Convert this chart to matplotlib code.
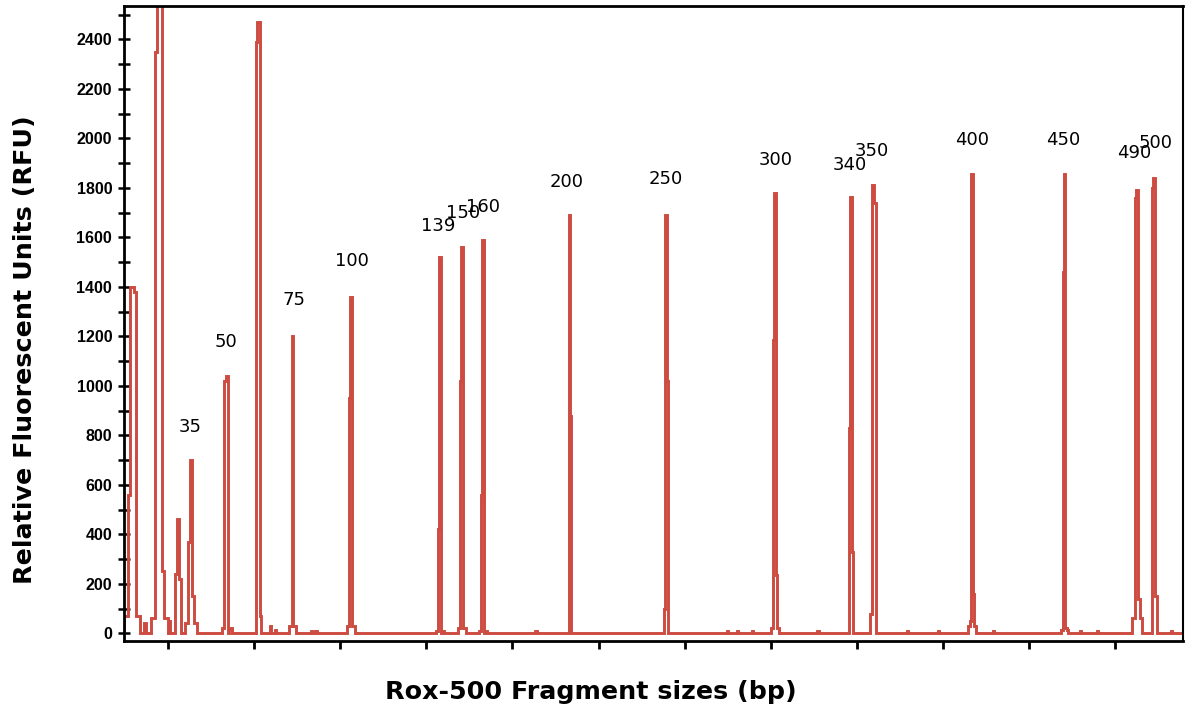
import matplotlib
matplotlib.use("Agg")
import matplotlib.pyplot as plt
from matplotlib.ticker import MultipleLocator, NullFormatter

# ---------------- data (scan units, RFU) ----------------
# peak table: position, apex height, left shoulder, right shoulder, pedestal,
# outer half-width, apex half-width
peak_pos = [58.2, 73.3, 90.1, 102.3, 111.6, 126.7, 168.5, 205.1, 218.5, 225.4,
            244.6, 267.2, 271.9, 312.5, 415.9, 441.5, 465.8, 527.4, 566.3, 678.4,
            749.4, 761.0, 778.3, 805.0, 854.9, 893.2, 918.8, 959.4, 994.3, 1033.8,
            1058.2, 1141.2, 1159.2, 1179.0, 1225.4, 1245.2, 1264.9]
peak_height = [1400, 40, 2600, 50, 460, 700, 1040, 2470, 30, 15,
               1200, 10, 10, 1360, 1519, 1560, 1590, 10, 1690, 1690,
               10, 10, 10, 1780, 10, 1765, 1810, 10, 10, 1855,
               10, 1855, 10, 10, 1790, 1840, 10]
peak_left = [560, 0, 2350, 0, 240, 370, 1020, 2390, 0, 0,
             30, 0, 0, 950, 420, 1020, 560, 0, 0, 100,
             0, 0, 0, 1185, 0, 830, 80, 0, 0, 50,
             0, 1460, 0, 0, 1760, 1800, 0]
peak_right = [1380, 0, 250, 0, 220, 150, 0, 70, 0, 0,
              30, 0, 0, 30, 0, 20, 0, 0, 880, 1020,
              0, 0, 0, 236, 0, 330, 1740, 0, 0, 160,
              0, 20, 0, 0, 140, 150, 0]
peak_ped = [70, 0, 60, 0, 0, 40, 20, 0, 0, 0,
            30, 0, 0, 30, 10, 20, 10, 0, 0, 0,
            0, 0, 0, 20, 0, 0, 0, 0, 0, 30,
            0, 15, 0, 0, 60, 0, 0]
peak_hw = [4.6, 2.3, 5.2, 1.5, 3.5, 3.5, 2.9, 2.9, 1.5, 1.5,
           2.3, 1.5, 1.5, 2.3, 2.3, 2.3, 2.3, 1.5, 2.3, 2.3,
           1.5, 1.5, 1.5, 2.3, 1.5, 2.3, 3.2, 1.5, 1.5, 2.3,
           1.5, 2.3, 1.5, 1.5, 2.9, 2.9, 1.5]
peak_top = [2.3, 0.8, 2.9, 0.6, 1.2, 1.2, 1.3, 1.3, 0.6, 0.6,
            1.0, 0.6, 0.6, 1.0, 1.0, 1.0, 1.0, 0.6, 1.0, 1.0,
            0.6, 0.6, 0.6, 1.0, 0.6, 1.0, 1.4, 0.6, 0.6, 1.0,
            0.6, 1.0, 0.6, 0.6, 1.3, 1.3, 0.6]

# size-standard labels
size_labels = ["35", "50", "75", "100", "139", "150", "160", "200", "250",
               "300", "340", "350", "400", "450", "490", "500"]
label_x = [125.6, 167.4, 246.3, 313.7, 413.6, 442.6, 465.8, 563.4, 678.4,
           806.1, 892.1, 917.6, 1033.8, 1139.5, 1221.9, 1247.5]
label_y = [834, 1177, 1347, 1505, 1646, 1698, 1722, 1823, 1835,
           1912, 1892, 1949, 1993, 1993, 1941, 1981]

x_ticks = [100, 200, 300, 400, 500, 600, 700, 800, 900, 1000, 1100, 1200]
XMIN, XMAX = 48.9, 1278.8
YMIN, YMAX = -31, 2535

# ---------------- build trace from the peak table ----------------
tx, ty = [XMIN], [0]
for c, h, l, r, p, w, t in zip(peak_pos, peak_height, peak_left, peak_right,
                               peak_ped, peak_hw, peak_top):
    tx += [c - 2 * w, c - 2 * w, c - w, c - w, c - t, c - t,
           c + t, c + t, c + w, c + w, c + 2 * w, c + 2 * w]
    ty += [0, p, p, l, l, h, h, r, r, p, p, 0]
tx.append(XMAX)
ty.append(0)

# ---------------- figure ----------------
W, H = 1192, 716
fig = plt.figure(figsize=(W / 100, H / 100), dpi=100)
ax = fig.add_axes([124 / W, 1 - 641 / H, (1183 - 124) / W, (641 - 6) / H])

trace_color = "#cd4b40"
ax.plot(tx, ty, color=trace_color, lw=2.1, solid_joinstyle="miter")

for s, x, y in zip(size_labels, label_x, label_y):
    ax.text(x, y, s, ha="center", va="center", fontsize=13,
            family="DejaVu Sans", color="black")

ax.set_xlim(XMIN, XMAX)
ax.set_ylim(YMIN, YMAX)

ax.set_xticks(x_ticks)
ax.xaxis.set_major_formatter(NullFormatter())
ax.tick_params(axis="x", direction="out", length=6, width=2, color="black")

ax.yaxis.set_major_locator(MultipleLocator(200))
ax.yaxis.set_minor_locator(MultipleLocator(100))
ax.tick_params(axis="y", which="both", direction="inout", length=9, width=1.8,
               color="black", pad=4)
for lab in ax.get_yticklabels():
    lab.set_fontfamily("Liberation Sans")
    lab.set_fontweight("bold")
    lab.set_fontsize(11.5)

for side in ["left", "bottom", "top", "right"]:
    ax.spines[side].set_linewidth(2)
    ax.spines[side].set_color("black")
ax.spines["right"].set_linewidth(1.5)

fig.text(25 / W, 1 - 350 / H, "Relative Fluorescent Units (RFU)", rotation=90,
         ha="center", va="center", fontsize=18.3, fontweight="bold",
         family="DejaVu Sans")
fig.text(591 / W, 1 - 692 / H, "Rox-500 Fragment sizes (bp)",
         ha="center", va="center", fontsize=18.3, fontweight="bold",
         family="DejaVu Sans")

fig.savefig("out.png", dpi=100)
